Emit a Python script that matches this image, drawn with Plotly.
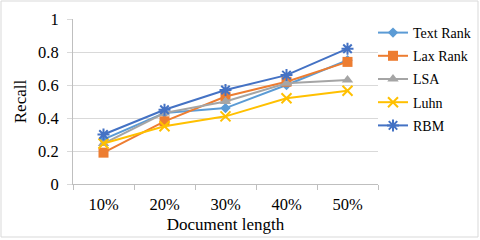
import plotly.graph_objects as go

categories = ["10%", "20%", "30%", "40%", "50%"]
series_names = ["Text Rank", "Lax Rank", "LSA", "Luhn", "RBM"]
text_rank = [0.27, 0.43, 0.46, 0.60, 0.75]
lax_rank = [0.19, 0.38, 0.53, 0.62, 0.74]
lsa = [0.245, 0.43, 0.50, 0.61, 0.63]
luhn = [0.245, 0.35, 0.41, 0.52, 0.565]
rbm = [0.30, 0.45, 0.57, 0.66, 0.82]
y_ticks = [0, 0.2, 0.4, 0.6, 0.8, 1]
y_tick_labels = ["0", "0.2", "0.4", "0.6", "0.8", "1"]

values = [text_rank, lax_rank, lsa, luhn, rbm]
colors = ["#5B9BD5", "#ED7D31", "#A5A5A5", "#FFC000", "#4472C4"]
symbols = ["diamond", "square", "triangle-up", "x-thin", "asterisk"]
sizes = [8, 10, 10, 10, 10]

FONT = "Liberation Serif"

fig = go.Figure()
for name, v, c, s, sz in zip(series_names, values, colors, symbols, sizes):
    fig.add_trace(go.Scatter(
        x=categories, y=v, name=name, mode="lines+markers",
        line=dict(color=c, width=2),
        marker=dict(symbol=s, size=sz, color=c, line=dict(color=c, width=2 if s in ("x-thin", "asterisk") else 0)),
        legendgroup=name,
    ))

L, R, T, B = 73, 102, 19, 56
W, H = 480, 240
pw, ph = W - L - R, H - T - B

fig.update_layout(
    width=W, height=H,
    margin=dict(l=L, r=R, t=T, b=B, autoexpand=False),
    paper_bgcolor="white", plot_bgcolor="white",
    font=dict(family=FONT, size=14, color="#000000"),
    showlegend=True,
    legend=dict(x=(373 - L) / pw, y=(184 - 17) / ph, xanchor="left", yanchor="top",
                font=dict(size=14, family=FONT), tracegroupgap=2, maxheight=230,
                bgcolor="rgba(0,0,0,0)"),
    xaxis=dict(
        type="category", tickson="boundaries", ticks="outside", ticklen=5,
        tickcolor="#BFBFBF", showline=True, linecolor="#BFBFBF", linewidth=1,
        showgrid=False, tickfont=dict(size=16.5, family=FONT), ticklabelstandoff=5,
        title=dict(text="Document length", font=dict(size=17, family=FONT), standoff=5),
        range=[-0.5, 4.5], automargin=False,
    ),
    yaxis=dict(
        range=[0, 1], tickvals=y_ticks, ticktext=y_tick_labels,
        ticks="outside", ticklen=5, tickcolor="#D9D9D9",
        showline=True, linecolor="#BFBFBF", linewidth=1,
        showgrid=True, gridcolor="#D9D9D9", gridwidth=1, zeroline=False,
        tickfont=dict(size=16.5, family=FONT), ticklabelstandoff=5,
        title=dict(text="Recall", font=dict(size=17, family=FONT), standoff=7),
        automargin=False,
    ),
    shapes=[dict(type="rect", xref="paper", yref="paper",
                 x0=(1 - L) / pw, x1=(478 - L) / pw,
                 y0=(184 - 237) / ph, y1=(184 - 1) / ph,
                 line=dict(color="#D9D9D9", width=1), fillcolor="rgba(0,0,0,0)", layer="below")],
)

fig.write_html("out.html", config={"displayModeBar": False},
               post_script="document.body.style.margin='0';document.body.style.padding='0';")
